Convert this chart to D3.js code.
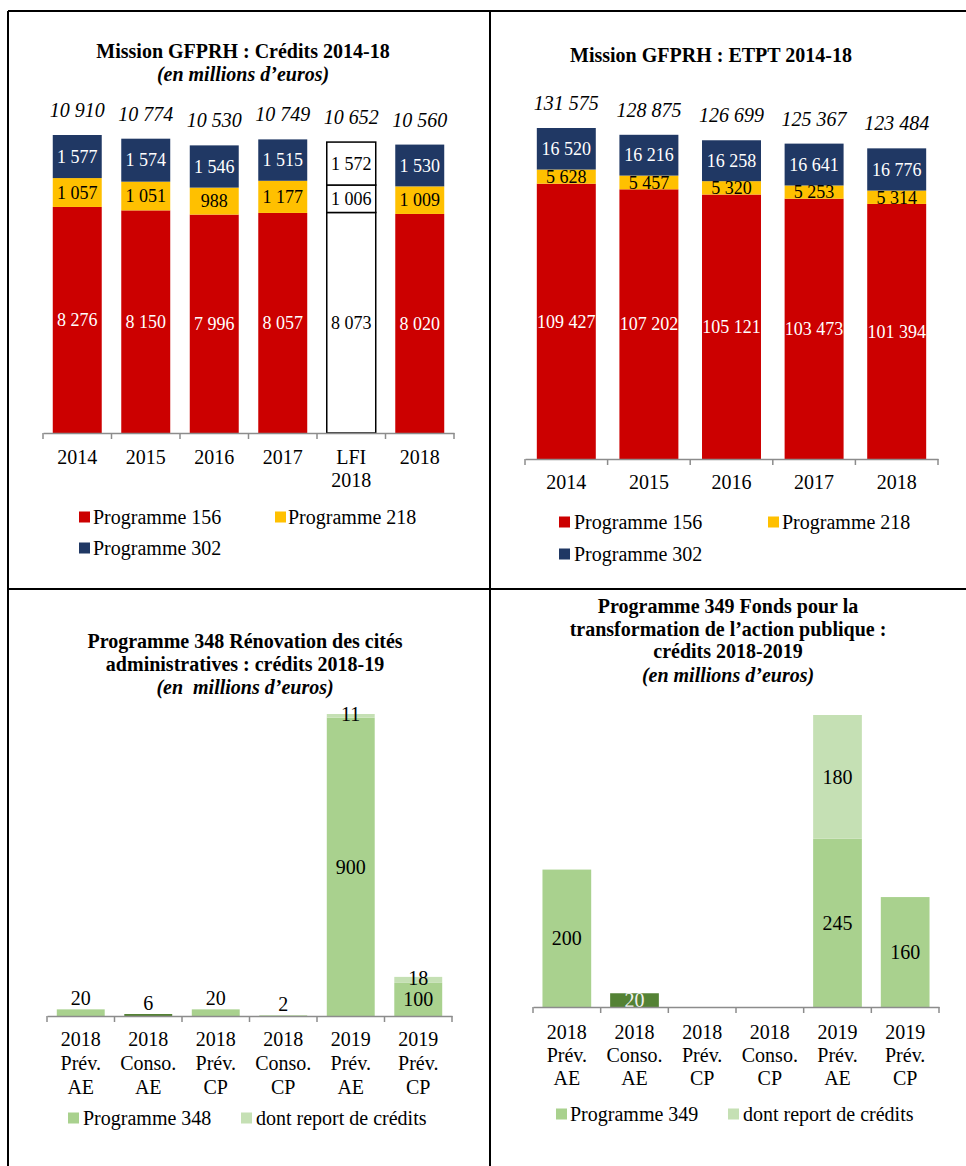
<!DOCTYPE html>
<html><head><meta charset="utf-8">
<script src="https://cdn.jsdelivr.net/npm/d3@7"></script>
<style>
body{margin:0;background:#fff}
svg text{font-family:"Liberation Serif","Times New Roman",serif;white-space:pre}
</style>
</head><body>
<svg id="c" width="966" height="1166"></svg>
<script>
// ---------- DATA ----------
const creditsCategories = ["2014","2015","2016","2017","LFI 2018","2018"];
const credits156 = [8276,8150,7996,8057,8073,8020];
const credits218 = [1057,1051,988,1177,1006,1009];
const credits302 = [1577,1574,1546,1515,1572,1530];
const creditsTotals = [10910,10774,10530,10749,10652,10560];

const etptCategories = ["2014","2015","2016","2017","2018"];
const etpt156 = [109427,107202,105121,103473,101394];
const etpt218 = [5628,5457,5320,5253,5314];
const etpt302 = [16520,16216,16258,16641,16776];
const etptTotals = [131575,128875,126699,125367,123484];

const p348Categories = ["2018 Prév. AE","2018 Conso. AE","2018 Prév. CP","2018 Conso. CP","2019 Prév. AE","2019 Prév. CP"];
const p348Values = [20,6,20,2,900,100];
const p348Report = [0,0,0,0,11,18];

const p349Categories = ["2018 Prév. AE","2018 Conso. AE","2018 Prév. CP","2018 Conso. CP","2019 Prév. AE","2019 Prév. CP"];
const p349Values = [200,20,0,0,245,160];
const p349Report = [0,0,0,0,180,0];

const legendProgrammes = ["Programme 156","Programme 218","Programme 302"];

// ---------- STYLE ----------
const RED="#CC0000", YEL="#FFC000", NAVY="#203864";
const LG="#A9D18E", PALE="#C5E0B4", DARK="#548235";
const AXIS="#8C8C8C";

const svg = d3.select("#c");

// frame
const frame = svg.append("g").attr("stroke","#000").attr("stroke-width",2);
frame.append("line").attr("x1",8).attr("x2",966).attr("y1",11).attr("y2",11);
frame.append("line").attr("x1",8).attr("x2",8).attr("y1",11).attr("y2",1166);
frame.append("line").attr("x1",490).attr("x2",490).attr("y1",11).attr("y2",1166);
frame.append("line").attr("x1",8).attr("x2",966).attr("y1",589).attr("y2",589);

function title(cx, lines){
  lines.forEach(l=>{
    svg.append("text").attr("x",cx).attr("y",l.y).attr("text-anchor","middle")
      .attr("font-size",20).attr("font-weight","bold")
      .attr("font-style",l.italic?"italic":"normal").text(l.t);
  });
}

function legend(items){
  items.forEach(it=>{
    svg.append("rect").attr("x",it.mx).attr("y",it.by-12.5).attr("width",11).attr("height",11).attr("fill",it.color);
    svg.append("text").attr("x",it.tx).attr("y",it.by).attr("font-size",20).text(it.label);
  });
}

function panel(o){
  const keys = o.series.map((s,j)=>"s"+j);
  const rows = o.cats.map((c,i)=>{const r={cat:c}; o.series.forEach((s,j)=>r["s"+j]=s[i]); return r;});
  const stacked = d3.stack().keys(keys)(rows);
  const x = d3.scaleBand().domain(o.cats).range([o.x0,o.x1]).paddingInner(o.pad).paddingOuter(o.pad/2);
  const y = d3.scaleLinear().domain([0,o.maxVal]).range([o.y0,o.yTop]);
  const g = svg.append("g");
  const bw = x.bandwidth();

  stacked.forEach((layer,j)=>{
    layer.forEach((d,i)=>{
      const v = d[1]-d[0];
      if(v<=0) return;
      const cat = o.cats[i];
      const st = o.style(j,cat);
      g.append("rect").attr("x",x(cat)).attr("y",y(d[1])).attr("width",bw)
        .attr("height",y(d[0])-y(d[1])).attr("fill",st.fill)
        .attr("stroke",st.stroke||"none").attr("stroke-width",st.stroke?1.5:0);
    });
  });
  // labels
  stacked.forEach((layer,j)=>{
    layer.forEach((d,i)=>{
      const v = d[1]-d[0];
      if(v<=0) return;
      const cat = o.cats[i];
      const st = o.style(j,cat);
      const total = o.series.reduce((a,s)=>a+s[i],0);
      let ty, dy;
      const h = y(d[0])-y(d[1]);
      if(o.smallAbove && v===total && h<20){ ty = y(d[1]) - 4; dy = 0; }
      else {
        ty = (y(d[0])+y(d[1]))/2; dy = "0.35em";
        if(o.smallAbove && j>0 && h<10) ty -= 2;
      }
      g.append("text").attr("x",x(cat)+bw/2).attr("y",ty).attr("dy",dy)
        .attr("text-anchor","middle").attr("font-size",o.labelSize)
        .attr("fill",st.label).text(d3.format(",")(v).replace(/,/g,"\u00a0"));
    });
  });
  // totals
  if(o.totals){
    o.totals.forEach((t,i)=>{
      g.append("text").attr("x",x(o.cats[i])+bw/2).attr("y",y(t)-18)
        .attr("text-anchor","middle").attr("font-size",20).attr("font-style","italic")
        .text(d3.format(",")(t).replace(/,/g,"\u00a0"));
    });
  }
  // axis
  const ax = g.append("g").attr("transform",`translate(0,${o.y0})`)
    .call(d3.axisBottom(x).tickSizeInner(0).tickSizeOuter(0).tickPadding(0));
  ax.select(".domain").attr("stroke",AXIS).attr("stroke-width",1.5);
  ax.selectAll(".tick text").each(function(c){
    const t = d3.select(this);
    t.text(null).attr("y",0).attr("dy",null).attr("font-size",20)
      .attr("font-family","Liberation Serif, Times New Roman, serif").attr("fill","#000");
    c.split(" ").forEach((ln,k)=>{
      t.append("tspan").attr("x",0).attr("y",o.tickBase - o.y0 + k*o.tickLH).text(ln);
    });
  });
  const step = x.step();
  for(let k=0;k<=o.cats.length;k++){
    const bx = o.x0 + k*step;
    g.append("line").attr("x1",bx).attr("x2",bx).attr("y1",o.y0).attr("y2",o.y0+6)
      .attr("stroke",AXIS).attr("stroke-width",1.5);
  }
}

// ---------- PANEL 1 ----------
title(243,[{t:"Mission GFPRH : Crédits 2014-18",y:58},{t:"(en millions d’euros)",y:81,italic:true}]);
panel({
  cats:creditsCategories, series:[credits156,credits218,credits302],
  x0:43, x1:454, y0:433, yTop:135, maxVal:creditsTotals[0], pad:0.285,
  labelSize:18, totals:creditsTotals, tickBase:464, tickLH:23,
  style:(j,cat)=>{
    if(cat==="LFI 2018") return {fill:"#fff",stroke:"#000",label:"#000"};
    return [{fill:RED,label:"#fff"},{fill:YEL,label:"#000"},{fill:NAVY,label:"#fff"}][j];
  }
});
legend([
  {label:legendProgrammes[0],color:RED,mx:79,tx:93,by:524},
  {label:legendProgrammes[1],color:YEL,mx:275,tx:288,by:524},
  {label:legendProgrammes[2],color:NAVY,mx:79,tx:93,by:555}
]);

// ---------- PANEL 2 ----------
title(711,[{t:"Mission GFPRH : ETPT 2014-18",y:62}]);
panel({
  cats:etptCategories, series:[etpt156,etpt218,etpt302],
  x0:525, x1:938, y0:459, yTop:128, maxVal:etptTotals[0], pad:0.286,
  labelSize:18, totals:etptTotals, tickBase:489, tickLH:23,
  style:(j)=>[{fill:RED,label:"#fff"},{fill:YEL,label:"#000"},{fill:NAVY,label:"#fff"}][j]
});
legend([
  {label:legendProgrammes[0],color:RED,mx:559,tx:574,by:529},
  {label:legendProgrammes[1],color:YEL,mx:768,tx:782,by:529},
  {label:legendProgrammes[2],color:NAVY,mx:559,tx:574,by:561}
]);

// ---------- PANEL 3 ----------
title(245,[
  {t:"Programme 348 Rénovation des cités",y:648},
  {t:"administratives : crédits 2018-19",y:671},
  {t:"(en  millions d’euros)",y:694,italic:true}
]);
panel({
  cats:p348Categories, series:[p348Values,p348Report],
  x0:47, x1:452, y0:1016, yTop:714, maxVal:p348Values[4]+p348Report[4], pad:0.29,
  labelSize:20, tickBase:1046, tickLH:24, smallAbove:true,
  style:(j,cat)=>{
    if(j===1) return {fill:PALE,label:"#000"};
    return {fill: cat==="2018 Conso. AE"?DARK:LG, label:"#000"};
  }
});
legend([
  {label:"Programme 348",color:LG,mx:68,tx:83,by:1125},
  {label:"dont report de crédits",color:PALE,mx:241,tx:256,by:1125}
]);

// ---------- PANEL 4 ----------
title(728,[
  {t:"Programme 349 Fonds pour la",y:613},
  {t:"transformation de l’action publique :",y:636},
  {t:"crédits 2018-2019",y:658},
  {t:"(en millions d’euros)",y:682,italic:true}
]);
panel({
  cats:p349Categories, series:[p349Values,p349Report],
  x0:533, x1:939, y0:1007, yTop:715, maxVal:p349Values[4]+p349Report[4], pad:0.28,
  labelSize:20, tickBase:1039, tickLH:23,
  style:(j,cat)=>{
    if(j===1) return {fill:PALE,label:"#000"};
    return cat==="2018 Conso. AE" ? {fill:DARK,label:"#f2f2f2"} : {fill:LG,label:"#000"};
  }
});
legend([
  {label:"Programme 349",color:LG,mx:556,tx:570,by:1121},
  {label:"dont report de crédits",color:PALE,mx:728,tx:743,by:1121}
]);
</script>
</body></html>
